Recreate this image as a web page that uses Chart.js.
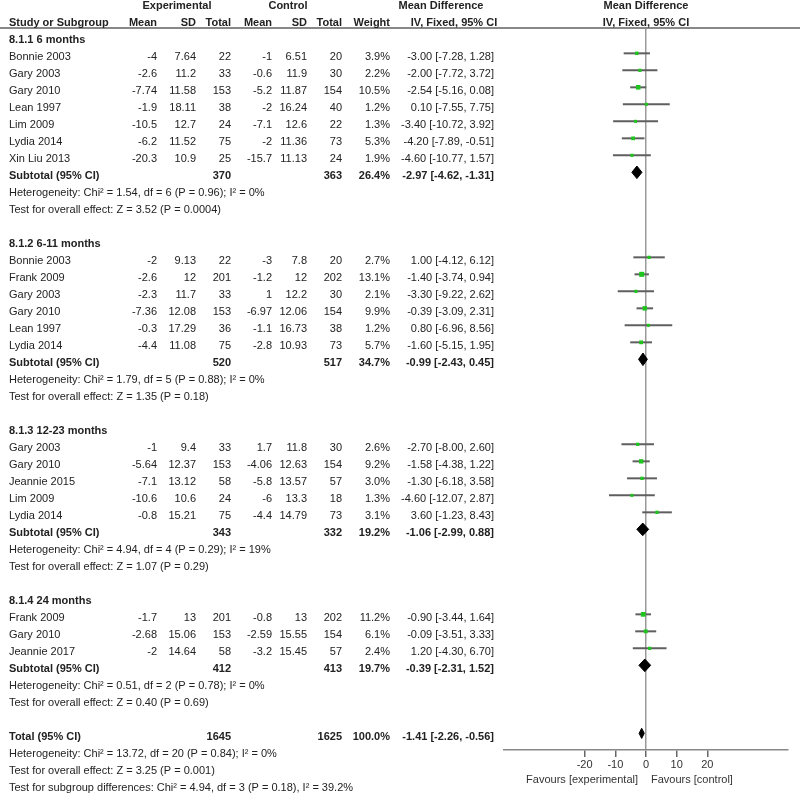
<!DOCTYPE html>
<html>
<head>
<meta charset="utf-8">
<script src="https://cdn.jsdelivr.net/npm/chart.js@4.4.1/dist/chart.umd.min.js"></script>
<style>
  body { margin: 0; background: #fff; }
  #wrap { width: 800px; height: 799px; position: relative; }
</style>
</head>
<body>
<div id="wrap"><canvas id="forest"></canvas></div>
<script>
// subgroups
const groupNames = ['8.1.1 6 months', '8.1.2 6-11 months', '8.1.3 12-23 months', '8.1.4 24 months'];

// studies (in table order)
const studyGroup = [0,0,0,0,0,0,0, 1,1,1,1,1,1, 2,2,2,2,2, 3,3,3];
const studyNames = ['Bonnie 2003','Gary 2003','Gary 2010','Lean 1997','Lim 2009','Lydia 2014','Xin Liu 2013',
  'Bonnie 2003','Frank 2009','Gary 2003','Gary 2010','Lean 1997','Lydia 2014',
  'Gary 2003','Gary 2010','Jeannie 2015','Lim 2009','Lydia 2014',
  'Frank 2009','Gary 2010','Jeannie 2017'];
const expMean = [-4,-2.6,-7.74,-1.9,-10.5,-6.2,-20.3, -2,-2.6,-2.3,-7.36,-0.3,-4.4, -1,-5.64,-7.1,-10.6,-0.8, -1.7,-2.68,-2];
const expSD = [7.64,11.2,11.58,18.11,12.7,11.52,10.9, 9.13,12,11.7,12.08,17.29,11.08, 9.4,12.37,13.12,10.6,15.21, 13,15.06,14.64];
const expTotal = [22,33,153,38,24,75,25, 22,201,33,153,36,75, 33,153,58,24,75, 201,153,58];
const ctlMean = [-1,-0.6,-5.2,-2,-7.1,-2,-15.7, -3,-1.2,1,-6.97,-1.1,-2.8, 1.7,-4.06,-5.8,-6,-4.4, -0.8,-2.59,-3.2];
const ctlSD = [6.51,11.9,11.87,16.24,12.6,11.36,11.13, 7.8,12,12.2,12.06,16.73,10.93, 11.8,12.63,13.57,13.3,14.79, 13,15.55,15.45];
const ctlTotal = [20,30,154,40,22,73,24, 20,202,30,154,38,73, 30,154,57,18,73, 202,154,57];
const weights = [3.9,2.2,10.5,1.2,1.3,5.3,1.9, 2.7,13.1,2.1,9.9,1.2,5.7, 2.6,9.2,3.0,1.3,3.1, 11.2,6.1,2.4];
const meanDiff = [-3.00,-2.00,-2.54,0.10,-3.40,-4.20,-4.60, 1.00,-1.40,-3.30,-0.39,0.80,-1.60, -2.70,-1.58,-1.30,-4.60,3.60, -0.90,-0.09,1.20];
const ciLow = [-7.28,-7.72,-5.16,-7.55,-10.72,-7.89,-10.77, -4.12,-3.74,-9.22,-3.09,-6.96,-5.15, -8.00,-4.38,-6.18,-12.07,-1.23, -3.44,-3.51,-4.30];
const ciHigh = [1.28,3.72,0.08,7.75,3.92,-0.51,1.57, 6.12,0.94,2.62,2.31,8.56,1.95, 2.60,1.22,3.58,2.87,8.43, 1.64,3.33,6.70];

// subtotals
const subExpTotal = [370, 520, 343, 412];
const subCtlTotal = [363, 517, 332, 413];
const subWeight = [26.4, 34.7, 19.2, 19.7];
const subMd = [-2.97, -0.99, -1.06, -0.39];
const subLow = [-4.62, -2.43, -2.99, -2.31];
const subHigh = [-1.31, 0.45, 0.88, 1.52];
const subChi = ['1.54', '1.79', '4.94', '0.51'];
const subDf = [6, 5, 4, 2];
const subHetP = ['0.96', '0.88', '0.29', '0.78'];
const subI2 = ['0%', '0%', '19%', '0%'];
const subZ = ['3.52', '1.35', '1.07', '0.40'];
const subZP = ['0.0004', '0.18', '0.29', '0.69'];

// overall
const totalExp = 1645;
const totalCtl = 1625;
const totalWeight = 100.0;
const totalMd = -1.41;
const totalLow = -2.26;
const totalHigh = -0.56;
const totalNotes = [
  'Heterogeneity: Chi\u00b2 = 13.72, df = 20 (P = 0.84); I\u00b2 = 0%',
  'Test for overall effect: Z = 3.25 (P = 0.001)',
  'Test for subgroup differences: Chi\u00b2 = 4.94, df = 3 (P = 0.18), I\u00b2 = 39.2%'
];

const xTicks = [-20, -10, 0, 10, 20];

// ---- build the row list ----
const rows = [];
groupNames.forEach((g, gi) => {
  rows.push({ kind: 'group', text: g });
  studyGroup.forEach((sg, i) => { if (sg === gi) rows.push({ kind: 'study', i }); });
  rows.push({ kind: 'sub', g: gi });
  rows.push({ kind: 'note', text: `Heterogeneity: Chi\u00b2 = ${subChi[gi]}, df = ${subDf[gi]} (P = ${subHetP[gi]}); I\u00b2 = ${subI2[gi]}` });
  rows.push({ kind: 'note', text: `Test for overall effect: Z = ${subZ[gi]} (P = ${subZP[gi]})` });
  rows.push({ kind: 'blank' });
});
rows.push({ kind: 'total' });
totalNotes.forEach(t => rows.push({ kind: 'note', text: t }));

const fmtCI = (m, lo, hi) => `${m.toFixed(2)} [${lo.toFixed(2)}, ${hi.toFixed(2)}]`;

// ---- datasets ----
const datasets = [];
const squares = [];
const diamond = (md, lo, hi, r, h) => ({
  type: 'scatter',
  showLine: true,
  order: 1,
  data: [{x: lo, y: r}, {x: md, y: r - h}, {x: hi, y: r}, {x: md, y: r + h}, {x: lo, y: r}],
  borderColor: '#000', backgroundColor: '#000', borderWidth: 1,
  fill: 'shape', pointRadius: 0, tension: 0
});

rows.forEach((row, r) => {
  if (row.kind === 'study') {
    const i = row.i;
    datasets.push({
      type: 'scatter', showLine: true, order: 2,
      data: [{x: ciLow[i], y: r}, {x: ciHigh[i], y: r}],
      borderColor: '#5f5f5f', borderWidth: 2, pointRadius: 0
    });
    squares.push({x: meanDiff[i], y: r, w: weights[i]});
  } else if (row.kind === 'sub') {
    datasets.push(diamond(subMd[row.g], subLow[row.g], subHigh[row.g], r, 0.37));
  } else if (row.kind === 'total') {
    datasets.push(diamond(totalMd, totalLow, totalHigh, r, 0.3));
  }
});
// weight squares, drawn on top of the CI lines
datasets.unshift({
  type: 'scatter',
  order: 0,
  data: squares,
  pointStyle: 'rect',
  pointRadius: ctx => ctx.raw ? 2 + ctx.raw.w * 0.12 : 2,
  backgroundColor: '#1fc41f', borderColor: '#1fc41f', borderWidth: 0
});

// ---- table text + header line ----
const FONT = '"Liberation Sans", Arial, sans-serif';
const tablePlugin = {
  id: 'table',
  afterDraw(chart) {
    const ctx = chart.ctx;
    const ys = chart.scales.y, xs = chart.scales.x;
    const at = r => ys.getPixelForValue(r) + 4;
    const cols = [157, 196, 231, 272, 307, 342, 390, 494];
    const put = (t, x, y, align, bold) => {
      ctx.font = (bold ? 'bold ' : '') + '11px ' + FONT;
      ctx.textAlign = align;
      ctx.fillText(t, x, y);
    };
    ctx.save();
    ctx.fillStyle = '#222';
    ctx.textBaseline = 'middle';

    // header line across the whole width
    ctx.strokeStyle = '#888';
    ctx.lineWidth = 2;
    ctx.beginPath();
    ctx.moveTo(0, chart.chartArea.top);
    ctx.lineTo(chart.width, chart.chartArea.top);
    ctx.stroke();

    // headers
    const h1 = at(-2), h2 = at(-1);
    put('Experimental', 177, h1, 'center', true);
    put('Control', 288, h1, 'center', true);
    put('Mean Difference', 441, h1, 'center', true);
    put('Mean Difference', xs.getPixelForValue(0), h1, 'center', true);
    put('Study or Subgroup', 9, h2, 'left', true);
    ['Mean', 'SD', 'Total', 'Mean', 'SD', 'Total', 'Weight'].forEach((t, k) => put(t, cols[k], h2, 'right', true));
    put('IV, Fixed, 95% CI', 454, h2, 'center', true);
    put('IV, Fixed, 95% CI', xs.getPixelForValue(0), h2, 'center', true);

    rows.forEach((row, r) => {
      const y = at(r);
      if (row.kind === 'group') put(row.text, 9, y, 'left', true);
      if (row.kind === 'note') put(row.text, 9, y, 'left', false);
      if (row.kind === 'study') {
        const i = row.i;
        put(studyNames[i], 9, y, 'left', false);
        const vals = [expMean[i], expSD[i], expTotal[i], ctlMean[i], ctlSD[i], ctlTotal[i]].map(String);
        vals.push(weights[i].toFixed(1) + '%');
        vals.push(fmtCI(meanDiff[i], ciLow[i], ciHigh[i]));
        vals.forEach((t, k) => put(t, cols[k], y, 'right', false));
      }
      if (row.kind === 'sub' || row.kind === 'total') {
        const g = row.g;
        const isSub = row.kind === 'sub';
        put(isSub ? 'Subtotal (95% CI)' : 'Total (95% CI)', 9, y, 'left', true);
        put(String(isSub ? subExpTotal[g] : totalExp), cols[2], y, 'right', true);
        put(String(isSub ? subCtlTotal[g] : totalCtl), cols[5], y, 'right', true);
        put((isSub ? subWeight[g] : totalWeight).toFixed(1) + '%', cols[6], y, 'right', true);
        put(isSub ? fmtCI(subMd[g], subLow[g], subHigh[g]) : fmtCI(totalMd, totalLow, totalHigh), cols[7], y, 'right', true);
      }
    });

    // favours labels under the axis
    ctx.fillStyle = '#333';
    const x0 = xs.getPixelForValue(0);
    put('Favours [experimental]', x0 - 8, 780, 'right', false);
    put('Favours [control]', x0 + 5, 780, 'left', false);
    ctx.restore();
  }
};

new Chart(document.getElementById('forest'), {
  type: 'scatter',
  data: { datasets },
  options: {
    responsive: true,
    maintainAspectRatio: false,
    animation: false,
    layout: { padding: { left: 504, right: 12, top: 28, bottom: 0 } },
    plugins: { legend: { display: false }, tooltip: { enabled: false } },
    scales: {
      x: {
        type: 'linear',
        min: -46.3, max: 46.3,
        afterBuildTicks: s => { s.ticks = xTicks.map(v => ({ value: v })); },
        afterFit: s => { s.height = 49; },
        grid: {
          color: c => c.tick && c.tick.value === 0 ? '#999' : 'rgba(0,0,0,0)',
          lineWidth: 1.5,
          tickColor: '#666',
          tickLength: 7,
          drawOnChartArea: true
        },
        border: { display: true, color: '#888', width: 1.5 },
        ticks: { color: '#333', font: { size: 11, family: FONT }, padding: 1, maxRotation: 0 }
      },
      y: {
        type: 'linear',
        display: false,
        reverse: true,
        min: -0.49, max: 41.98
      }
    }
  },
  plugins: [tablePlugin]
});
</script>
</body>
</html>
